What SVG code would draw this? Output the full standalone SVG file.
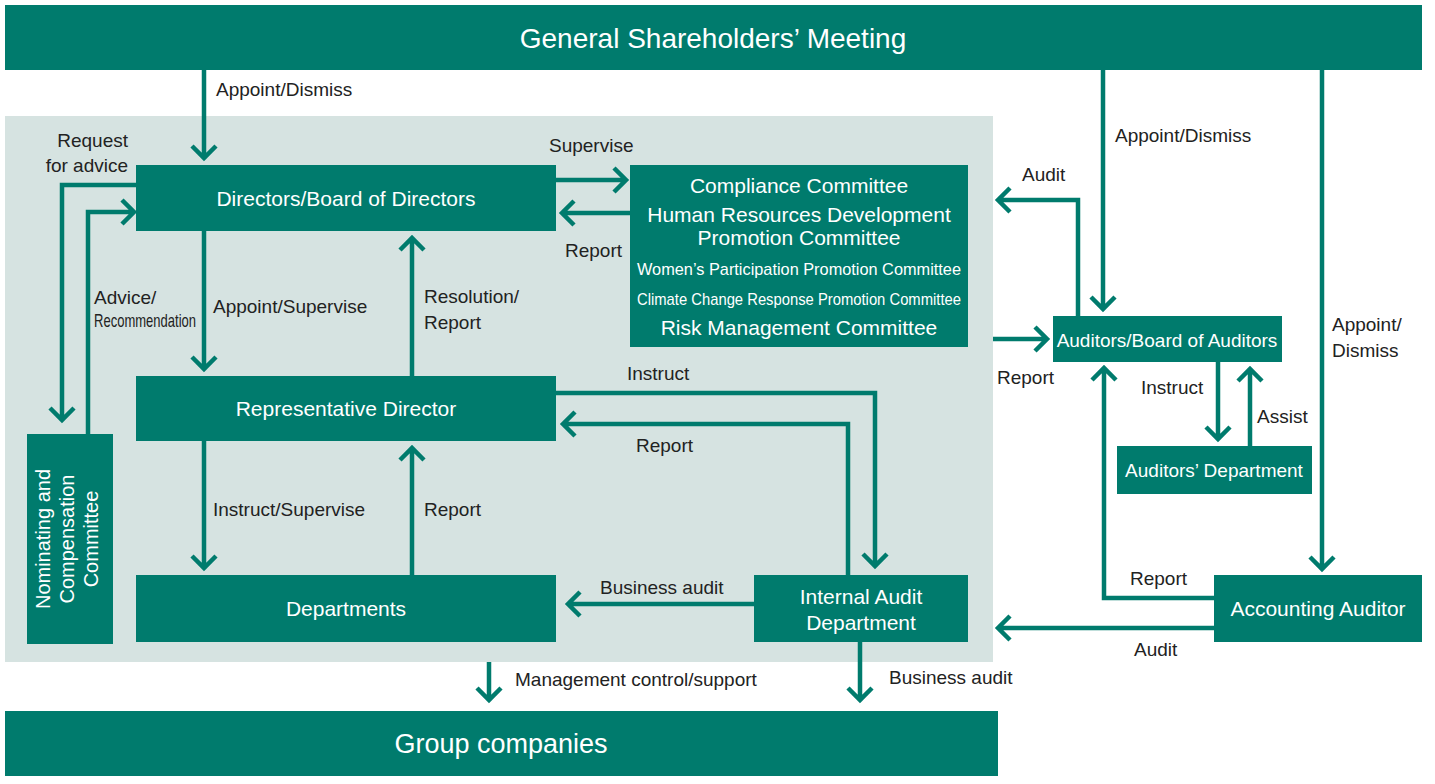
<svg xmlns="http://www.w3.org/2000/svg" width="1435" height="784" viewBox="0 0 1435 784">
<style>
.b{fill:#007B6D}
.w{fill:#fff;font-family:"Liberation Sans",Arial,sans-serif;text-anchor:middle}
.t{fill:#222;font-family:"Liberation Sans",Arial,sans-serif;font-size:19px}
.c path{fill:none;stroke:#007B6D;stroke-width:4.5}
</style>
<rect width="1435" height="784" fill="#fff"/>
<rect x="5" y="116" width="988" height="546" fill="#D6E3E1"/>
<g id="gsm"><rect class="b" x="5" y="5" width="1417" height="65"/><text class="w" x="713" y="48" font-size="28">General Shareholders’ Meeting</text></g>
<g id="board"><rect class="b" x="136" y="165" width="420" height="66"/><text class="w" x="346" y="206" font-size="21">Directors/Board of Directors</text></g>
<g id="committees"><rect class="b" x="630" y="165" width="338" height="182"/>
<text class="w" x="799" y="193" font-size="21">Compliance Committee</text>
<text class="w" x="799" y="222" font-size="21">Human Resources Development</text>
<text class="w" x="799" y="245" font-size="21">Promotion Committee</text>
<text class="w" x="799" y="275" font-size="17" textLength="324" lengthAdjust="spacingAndGlyphs">Women’s Participation Promotion Committee</text>
<text class="w" x="799" y="305" font-size="17" textLength="324" lengthAdjust="spacingAndGlyphs">Climate Change Response Promotion Committee</text>
<text class="w" x="799" y="335" font-size="21">Risk Management Committee</text></g>
<g id="rep"><rect class="b" x="136" y="376" width="420" height="65"/><text class="w" x="346" y="416" font-size="21">Representative Director</text></g>
<g id="dept"><rect class="b" x="136" y="575" width="420" height="67"/><text class="w" x="346" y="616" font-size="21">Departments</text></g>
<g id="iad"><rect class="b" x="754" y="575" width="214" height="67"/><text class="w" x="861" y="604" font-size="21">Internal Audit</text><text class="w" x="861" y="630" font-size="21">Department</text></g>
<g id="ncc"><rect class="b" x="27" y="434" width="86" height="210"/><text class="w" font-size="20" transform="translate(50 539) rotate(-90)">Nominating and</text><text class="w" font-size="20" transform="translate(74 539) rotate(-90)">Compensation</text><text class="w" font-size="20" transform="translate(98 539) rotate(-90)">Committee</text></g>
<g id="aud"><rect class="b" x="1053" y="316" width="229" height="46"/><text class="w" x="1167" y="347" font-size="19">Auditors/Board of Auditors</text></g>
<g id="auddept"><rect class="b" x="1117" y="446" width="195" height="48"/><text class="w" x="1214" y="477" font-size="19">Auditors’ Department</text></g>
<g id="acc"><rect class="b" x="1214" y="575" width="208" height="67"/><text class="w" x="1318" y="616" font-size="21">Accounting Auditor</text></g>
<g id="group"><rect class="b" x="5" y="711" width="993" height="65"/><text class="w" x="501" y="753" font-size="27">Group companies</text></g>
<g class="c" id="connectors">
<path d="M204 70V158M192 146L204 158L216 146"/>
<path d="M136 185H62V420M50 408L62 420L74 408"/>
<path d="M88 434V212H134M122 200L134 212L122 224"/>
<path d="M204 231V369M192 357L204 369L216 357"/>
<path d="M412 376V238M400 250L412 238L424 250"/>
<path d="M204 441V568M192 556L204 568L216 556"/>
<path d="M412 575V448M400 460L412 448L424 460"/>
<path d="M556 180H626M614 168L626 180L614 192"/>
<path d="M630 213H562M574 201L562 213L574 225"/>
<path d="M556 393H875V566M863 554L875 566L887 554"/>
<path d="M848 575V424H563M575 412L563 424L575 436"/>
<path d="M754 604H568M580 592L568 604L580 616"/>
<path d="M1078 316V200H998M1010 188L998 200L1010 212"/>
<path d="M1103 70V309M1091 297L1103 309L1115 297"/>
<path d="M993 339H1047M1035 327L1047 339L1035 351"/>
<path d="M1322 70V569M1310 557L1322 569L1334 557"/>
<path d="M1218 362V439M1206 427L1218 439L1230 427"/>
<path d="M1250 446V369M1238 381L1250 369L1262 381"/>
<path d="M1214 598H1104V368M1092 380L1104 368L1116 380"/>
<path d="M1214 628H998M1010 616L998 628L1010 640"/>
<path d="M489 662V700M477 688L489 700L501 688"/>
<path d="M860 642V700M848 688L860 700L872 688"/>
</g>
<g id="labels">
<text class="t" x="216" y="96">Appoint/Dismiss</text>
<text class="t" x="128" y="147" text-anchor="end">Request</text>
<text class="t" x="128" y="172" text-anchor="end">for advice</text>
<text class="t" x="94" y="304" font-size="15">Advice/</text>
<text class="t" x="94" y="327" font-size="15" textLength="102" lengthAdjust="spacingAndGlyphs">Recommendation</text>
<text class="t" x="213" y="313">Appoint/Supervise</text>
<text class="t" x="424" y="303">Resolution/</text>
<text class="t" x="424" y="329">Report</text>
<text class="t" x="213" y="516">Instruct/Supervise</text>
<text class="t" x="424" y="516">Report</text>
<text class="t" x="549" y="152">Supervise</text>
<text class="t" x="565" y="257">Report</text>
<text class="t" x="627" y="380">Instruct</text>
<text class="t" x="636" y="452">Report</text>
<text class="t" x="600" y="594">Business audit</text>
<text class="t" x="1022" y="181">Audit</text>
<text class="t" x="1115" y="142">Appoint/Dismiss</text>
<text class="t" x="997" y="384">Report</text>
<text class="t" x="1332" y="331">Appoint/</text>
<text class="t" x="1332" y="357">Dismiss</text>
<text class="t" x="1141" y="394">Instruct</text>
<text class="t" x="1257" y="423">Assist</text>
<text class="t" x="1130" y="585">Report</text>
<text class="t" x="1134" y="656">Audit</text>
<text class="t" x="515" y="686">Management control/support</text>
<text class="t" x="889" y="684">Business audit</text>
</g>
</svg>
